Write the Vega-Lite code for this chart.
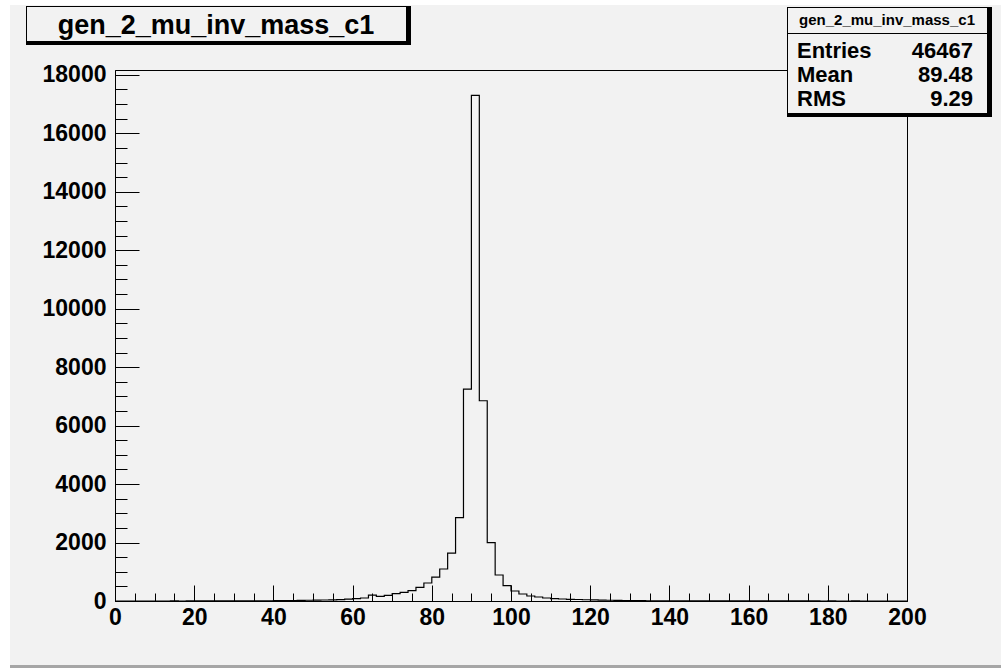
{
  "$schema": "https://vega.github.io/schema/vega-lite/v6.json",
  "width": 792,
  "height": 531,
  "autosize": {"type": "none"},
  "padding": {"left": 115, "top": 70, "right": 94, "bottom": 70},
  "background": "#f2f2f2",
  "config": {
    "view": {"stroke": "black", "strokeWidth": 1, "fill": null},
    "font": "Liberation Sans",
    "axis": {"grid": false, "title": null, "domainColor": "black", "tickColor": "black", "labelColor": "black", "labelFont": "Liberation Sans", "labelFontWeight": "bold", "labelFontSize": 23, "tickWidth": 1, "domainWidth": 1, "labelFlush": false, "labelOverlap": false},
    "legend": {"labelFont": "Liberation Sans", "labelFontWeight": "bold", "labelColor": "black", "labelLimit": 1000, "cornerRadius": 0}
  },
  "datasets": {
    "hist": [
      {"x":0,"count":0},{"x":2,"count":0},{"x":4,"count":0},{"x":6,"count":0},{"x":8,"count":0},
      {"x":10,"count":0},{"x":12,"count":0},{"x":14,"count":1},{"x":16,"count":0},{"x":18,"count":1},
      {"x":20,"count":1},{"x":22,"count":1},{"x":24,"count":2},{"x":26,"count":2},{"x":28,"count":3},
      {"x":30,"count":3},{"x":32,"count":4},{"x":34,"count":6},{"x":36,"count":7},{"x":38,"count":9},
      {"x":40,"count":11},{"x":42,"count":13},{"x":44,"count":16},{"x":46,"count":22},{"x":48,"count":25},
      {"x":50,"count":30},{"x":52,"count":35},{"x":54,"count":40},{"x":56,"count":50},{"x":58,"count":65},
      {"x":60,"count":80},{"x":62,"count":102},{"x":64,"count":200},{"x":66,"count":160},{"x":68,"count":193},
      {"x":70,"count":250},{"x":72,"count":295},{"x":74,"count":352},{"x":76,"count":466},{"x":78,"count":615},
      {"x":80,"count":820},{"x":82,"count":1094},{"x":84,"count":1640},{"x":86,"count":2850},{"x":88,"count":7250},
      {"x":90,"count":17300},{"x":92,"count":6850},{"x":94,"count":2000},{"x":96,"count":890},{"x":98,"count":523},
      {"x":100,"count":342},{"x":102,"count":239},{"x":104,"count":171},{"x":106,"count":137},{"x":108,"count":103},
      {"x":110,"count":79},{"x":112,"count":68},{"x":114,"count":57},{"x":116,"count":51},{"x":118,"count":42},
      {"x":120,"count":36},{"x":122,"count":30},{"x":124,"count":25},{"x":126,"count":20},{"x":128,"count":16},
      {"x":130,"count":13},{"x":132,"count":11},{"x":134,"count":9},{"x":136,"count":8},{"x":138,"count":7},
      {"x":140,"count":6},{"x":142,"count":5},{"x":144,"count":4},{"x":146,"count":4},{"x":148,"count":3},
      {"x":150,"count":3},{"x":152,"count":3},{"x":154,"count":2},{"x":156,"count":2},{"x":158,"count":2},
      {"x":160,"count":2},{"x":162,"count":1},{"x":164,"count":1},{"x":166,"count":1},{"x":168,"count":1},
      {"x":170,"count":1},{"x":172,"count":1},{"x":174,"count":1},{"x":176,"count":1},{"x":178,"count":0},
      {"x":180,"count":1},{"x":182,"count":0},{"x":184,"count":0},{"x":186,"count":1},{"x":188,"count":0},
      {"x":190,"count":0},{"x":192,"count":0},{"x":194,"count":0},{"x":196,"count":0},{"x":198,"count":0},
      {"x":200,"count":0}
    ],
    "meta": [{"name": "gen_2_mu_inv_mass_c1", "title": "gen_2_mu_inv_mass_c1"}],
    "stats": [
      {"stat": "Entries", "value": "46467"},
      {"stat": "Mean", "value": "89.48"},
      {"stat": "RMS", "value": "9.29"}
    ]
  },
  "resolve": {"axis": {"x": "independent", "y": "independent"}},
  "layer": [
    {
      "data": {"name": "hist"},
      "mark": {"type": "line", "interpolate": "step-after", "color": "black", "strokeWidth": 1.2},
      "encoding": {
        "x": {"field": "x", "type": "quantitative", "scale": {"domain": [0, 200], "nice": false, "zero": false},
              "axis": {"orient": "bottom", "values": [0,20,40,60,80,100,120,140,160,180,200], "format": "d", "tickSize": -16, "labelPadding": 21}},
        "y": {"field": "count", "type": "quantitative", "scale": {"domain": [0, 18165], "nice": false},
              "axis": {"orient": "left", "values": [0,2000,4000,6000,8000,10000,12000,14000,16000,18000], "format": "d", "tickSize": -24, "labelPadding": 33}}
      }
    },
    {
      "data": {"name": "hist"},
      "mark": {"type": "line", "strokeOpacity": 0},
      "encoding": {
        "x": {"field": "x", "type": "quantitative",
              "axis": {"orient": "bottom", "values": [5,10,15,25,30,35,45,50,55,65,70,75,85,90,95,105,110,115,125,130,135,145,150,155,165,170,175,185,190,195], "tickSize": -8, "labels": false, "domain": false}},
        "y": {"field": "count", "type": "quantitative",
              "axis": {"orient": "left", "values": [500,1000,1500,2500,3000,3500,4500,5000,5500,6500,7000,7500,8500,9000,9500,10500,11000,11500,12500,13000,13500,14500,15000,15500,16500,17000,17500], "tickSize": -12, "labels": false, "domain": false}}
      }
    },
    {
      "data": {"name": "hist"},
      "mark": {"type": "point", "opacity": 0, "strokeWidth": 0},
      "encoding": {
        "fill": {"field": "x", "type": "nominal", "scale": {"range": ["white"]},
          "legend": {"orient": "none", "legendX": -105, "legendY": 595, "title": null, "padding": 0, "fillColor": "#a6a6a6", "zindex": 1,
                     "values": [0], "labelExpr": "''", "labelFontSize": 1,
                     "symbolType": "M-11,-666H-1V5H-11Z M-1,-666H990V-661H-1Z M-1,2H990V5H-1Z", "symbolSize": 4, "symbolStrokeWidth": 0, "symbolOpacity": 1}}
      }
    },
    {
      "data": {"name": "meta"},
      "mark": {"type": "point", "opacity": 0, "fill": "#f2f2f2", "stroke": "black", "strokeWidth": 0},
      "encoding": {
        "strokeDash": {"field": "title", "type": "nominal",
          "legend": {"orient": "none", "legendX": -89, "legendY": -64, "title": null, "padding": 0, "fillColor": "black", "zindex": 1,
                     "symbolType": "M-0.95,-0.95H18V0.75H-0.95Z M18.2,0.95h0.0001", "symbolSize": 1600, "symbolStrokeWidth": 0, "symbolOpacity": 1,
                     "symbolFillColor": "#f2f2f2",
                     "labelFontSize": 27, "labelAlign": "center", "labelOffset": 150}},
        "shape": {"field": "name", "type": "nominal",
          "scale": {"range": ["M-0.923077,-0.923077H14.384615V1H-0.923077Z M-0.923077,1.076923H14.384615V7.153846H-0.923077Z M14.692308,7.461538h0.0001"]},
          "legend": {"orient": "none", "legendX": 672, "legendY": -63, "title": null, "padding": 0, "fillColor": "black", "zindex": 1,
                     "symbolSize": 676, "symbolStrokeWidth": 0, "symbolOpacity": 1,
                     "symbolFillColor": "#f2f2f2",
                     "labelFontSize": 15, "labelAlign": "center", "labelOffset": 74}}
      }
    },
    {
      "data": {"name": "stats"},
      "mark": {"type": "point", "opacity": 0},
      "encoding": {
        "color": {"field": "stat", "type": "nominal", "sort": null,
          "legend": {"orient": "none", "legendX": 671, "legendY": -30, "title": null, "padding": 0, "rowPadding": 0, "zindex": 2,
                     "symbolType": "M-11,-11H100V13H-11Z", "symbolSize": 4, "symbolStrokeWidth": 0, "symbolOpacity": 0,
                     "labelFontSize": 22, "labelAlign": "left", "labelOffset": -11}}
      }
    },
    {
      "data": {"name": "stats"},
      "mark": {"type": "point", "opacity": 0},
      "encoding": {
        "stroke": {"field": "value", "type": "nominal", "sort": null,
          "legend": {"orient": "none", "legendX": 847, "legendY": -30, "title": null, "padding": 0, "rowPadding": 0, "zindex": 2,
                     "symbolType": "M-100,-11H11V13H-100Z", "symbolSize": 4, "symbolStrokeWidth": 0, "symbolOpacity": 0,
                     "labelFontSize": 22, "labelAlign": "right", "labelOffset": -11}}
      }
    }
  ]
}
